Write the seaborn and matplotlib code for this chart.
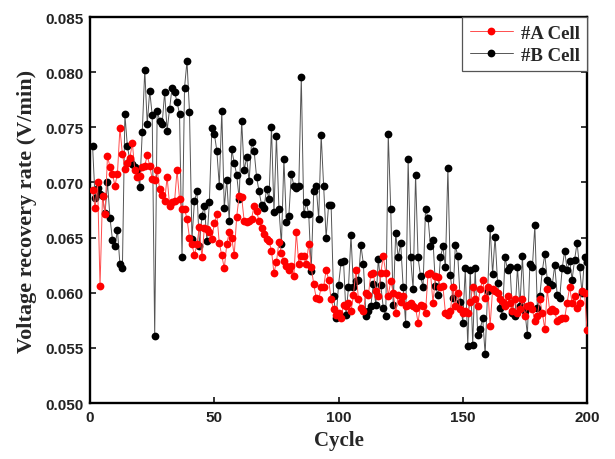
import numpy as np
import pandas as pd
import seaborn as sns
import matplotlib
matplotlib.use("Agg")
import matplotlib.pyplot as plt

cycles = list(range(1, 201))

cell_a = [
    0.0693, 0.0677, 0.0700, 0.0606, 0.0688, 0.0671, 0.0724, 0.0714, 0.0708, 0.0697,
    0.0708, 0.0749, 0.0726, 0.0712, 0.0718, 0.0722, 0.0736, 0.0711, 0.0705, 0.0706,
    0.0714, 0.0715, 0.0725, 0.0715, 0.0703, 0.0702, 0.0711, 0.0694, 0.0689, 0.0683,
    0.0705, 0.0679, 0.0682, 0.0683, 0.0711, 0.0685, 0.0676, 0.0676, 0.0667, 0.0650,
    0.0644, 0.0634, 0.0644, 0.0660, 0.0632, 0.0659, 0.0658, 0.0655, 0.0649, 0.0663,
    0.0671, 0.0645, 0.0634, 0.0622, 0.0644, 0.0655, 0.0650, 0.0634, 0.0669, 0.0688,
    0.0687, 0.0665, 0.0664, 0.0665, 0.0667, 0.0679, 0.0674, 0.0665, 0.0659, 0.0653,
    0.0649, 0.0647, 0.0638, 0.0618, 0.0628, 0.0646, 0.0636, 0.0629, 0.0624, 0.0621,
    0.0624, 0.0615, 0.0655, 0.0626, 0.0633, 0.0633, 0.0626, 0.0644, 0.0623, 0.0608,
    0.0595, 0.0594, 0.0605, 0.0605, 0.0621, 0.0612, 0.0594, 0.0585, 0.0580, 0.0582,
    0.0577, 0.0589, 0.0588, 0.0591, 0.0583, 0.0598, 0.0621, 0.0594, 0.0586, 0.0583,
    0.0600, 0.0598, 0.0617, 0.0618, 0.0602, 0.0597, 0.0618, 0.0633, 0.0618, 0.0597,
    0.0611, 0.0600, 0.0582, 0.0598, 0.0592, 0.0597, 0.0588, 0.0589, 0.0591, 0.0588,
    0.0586, 0.0573, 0.0589, 0.0588, 0.0582, 0.0617, 0.0618, 0.0591, 0.0615, 0.0614,
    0.0605, 0.0606, 0.0582, 0.0580, 0.0583, 0.0605, 0.0588, 0.0600, 0.0585, 0.0582,
    0.0583, 0.0582, 0.0592, 0.0605, 0.0594, 0.0588, 0.0603, 0.0612, 0.0595, 0.0605,
    0.0570, 0.0603, 0.0602, 0.0600, 0.0594, 0.0592, 0.0588, 0.0597, 0.0591, 0.0583,
    0.0594, 0.0582, 0.0585, 0.0594, 0.0579, 0.0588, 0.0589, 0.0585, 0.0574, 0.0579,
    0.0594, 0.0582, 0.0567, 0.0603, 0.0583, 0.0585, 0.0583, 0.0574, 0.0576, 0.0577,
    0.0577, 0.0591, 0.0605, 0.0591, 0.0597, 0.0586, 0.0591, 0.0602, 0.0600, 0.0566,
]

cell_b = [
    0.0733, 0.0686, 0.0695, 0.0690, 0.0688, 0.0672, 0.0700, 0.0668, 0.0648, 0.0642,
    0.0657, 0.0626, 0.0622, 0.0762, 0.0733, 0.0720, 0.0717, 0.0714, 0.0711, 0.0696,
    0.0746, 0.0802, 0.0753, 0.0783, 0.0761, 0.0561, 0.0765, 0.0756, 0.0753, 0.0782,
    0.0747, 0.0767, 0.0786, 0.0782, 0.0773, 0.0762, 0.0632, 0.0786, 0.0810, 0.0764,
    0.0649, 0.0683, 0.0692, 0.0642, 0.0670, 0.0679, 0.0647, 0.0682, 0.0749, 0.0744,
    0.0729, 0.0697, 0.0765, 0.0677, 0.0702, 0.0665, 0.0730, 0.0718, 0.0707, 0.0685,
    0.0756, 0.0711, 0.0723, 0.0701, 0.0737, 0.0729, 0.0705, 0.0692, 0.0680, 0.0677,
    0.0694, 0.0685, 0.0750, 0.0673, 0.0742, 0.0676, 0.0644, 0.0721, 0.0664, 0.0670,
    0.0708, 0.0697, 0.0695, 0.0697, 0.0796, 0.0671, 0.0682, 0.0671, 0.0620, 0.0692,
    0.0697, 0.0667, 0.0743, 0.0697, 0.0650, 0.0680, 0.0680, 0.0597, 0.0577, 0.0607,
    0.0628, 0.0629, 0.0580, 0.0605, 0.0652, 0.0605, 0.0611, 0.0612, 0.0643, 0.0626,
    0.0579, 0.0583, 0.0588, 0.0608, 0.0589, 0.0631, 0.0607, 0.0586, 0.0579, 0.0744,
    0.0676, 0.0589, 0.0654, 0.0632, 0.0645, 0.0605, 0.0572, 0.0721, 0.0632, 0.0603,
    0.0707, 0.0632, 0.0615, 0.0605, 0.0676, 0.0668, 0.0642, 0.0648, 0.0606, 0.0598,
    0.0632, 0.0642, 0.0623, 0.0713, 0.0616, 0.0595, 0.0643, 0.0633, 0.0592, 0.0573,
    0.0622, 0.0552, 0.0621, 0.0553, 0.0622, 0.0562, 0.0567, 0.0577, 0.0544, 0.0602,
    0.0659, 0.0617, 0.0651, 0.0609, 0.0586, 0.0579, 0.0632, 0.0621, 0.0623, 0.0582,
    0.0579, 0.0623, 0.0588, 0.0633, 0.0583, 0.0562, 0.0626, 0.0623, 0.0661, 0.0586,
    0.0597, 0.0620, 0.0635, 0.0612, 0.0608, 0.0607, 0.0625, 0.0598, 0.0595, 0.0622,
    0.0638, 0.0621, 0.0629, 0.0612, 0.0630, 0.0645, 0.0623, 0.0600, 0.0632, 0.0628,
]

series_names = ["#A Cell", "#B Cell"]
x_ticks = [0, 50, 100, 150, 200]
y_ticks = [0.050, 0.055, 0.060, 0.065, 0.070, 0.075, 0.080, 0.085]

df = pd.DataFrame({
    "Cycle": cycles * 2,
    "Rate": cell_a + cell_b,
    "Cell": [series_names[0]] * len(cycles) + [series_names[1]] * len(cycles),
})

sns.set_style("ticks")
plt.rcParams["font.family"] = ["Liberation Sans", "DejaVu Sans"]

fig = plt.figure(figsize=(6.15, 4.6), dpi=100)
ax = fig.add_axes([0.1465, 0.1217, 0.8080, 0.8390])

styles = {
    "#A Cell": dict(line="#ff4d4d", mark="#ff0000", z=3),
    "#B Cell": dict(line="#555555", mark="#000000", z=2),
}
handles = {}
for name in ["#B Cell", "#A Cell"]:
    sub = df[df["Cell"] == name]
    sns.lineplot(data=sub, x="Cycle", y="Rate", ax=ax, color=styles[name]["mark"],
                 marker="o", markersize=5.6, markeredgewidth=0, linewidth=0.7,
                 label=name, zorder=styles[name]["z"], estimator=None, sort=False)
    ln = ax.lines[-1]
    ln.set_color(styles[name]["line"])
    ln.set_markerfacecolor(styles[name]["mark"])
    ln.set_markeredgecolor(styles[name]["mark"])
    handles[name] = ln

ax.set_xlim(0, 200)
ax.set_ylim(0.050, 0.085)
ax.set_xticks(x_ticks)
ax.set_yticks(y_ticks)
ax.set_xticklabels([str(v) for v in x_ticks], fontweight="bold", fontsize=11, color="#222222")
ax.set_yticklabels([f"{v:.3f}" for v in y_ticks], fontweight="bold", fontsize=11, color="#222222")
ax.tick_params(axis="both", direction="in", length=4, width=1.3, pad=5)
ax.tick_params(axis="y", right=True)

for sp in ax.spines.values():
    sp.set_visible(True)
    sp.set_linewidth(1.7)
    sp.set_color("black")

ax.set_xlabel("Cycle", fontfamily=["Liberation Serif", "DejaVu Serif"],
              fontweight="bold", fontsize=15, labelpad=4)
ax.set_ylabel("Voltage recovery rate (V/min)", fontfamily=["Liberation Serif", "DejaVu Serif"],
              fontweight="bold", fontsize=16, labelpad=6)

leg = ax.legend([handles["#A Cell"], handles["#B Cell"]], series_names,
                loc="upper right", bbox_to_anchor=(1.0, 1.0), borderaxespad=0.0,
                frameon=True, fancybox=False, edgecolor="#555555", framealpha=1,
                handlelength=2.3, handletextpad=0.4, borderpad=0.4, labelspacing=0.25,
                prop={"family": ["Liberation Serif", "DejaVu Serif"], "weight": "bold", "size": 13.5})
leg.get_frame().set_linewidth(0.9)

fig.savefig("out.png", dpi=100)
